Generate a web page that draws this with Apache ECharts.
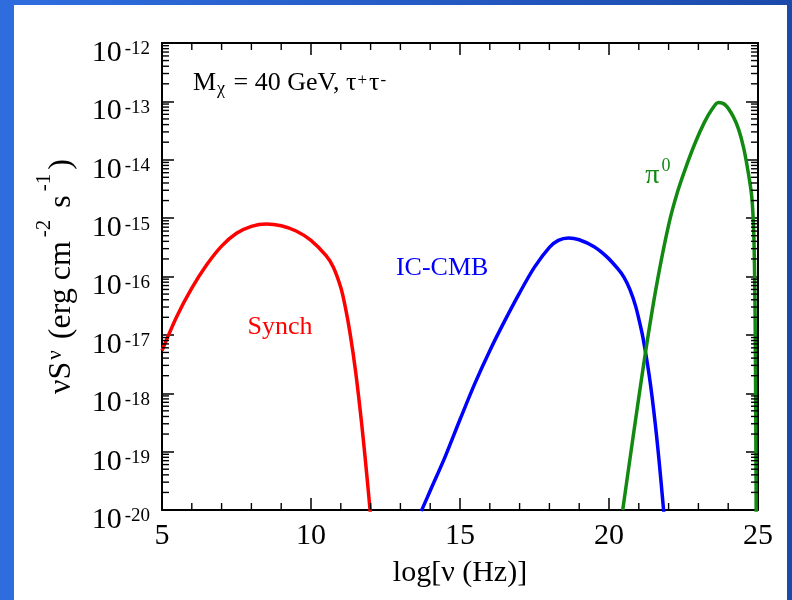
<!DOCTYPE html>
<html lang="en">
<head>
<meta charset="UTF-8">
<title>Synch / IC-CMB / pi0 spectrum</title>
<script src="https://cdn.jsdelivr.net/npm/echarts@6.0.0/dist/echarts.min.js"></script>
<style>
  html, body { margin: 0; padding: 0; }
  body { width: 792px; height: 600px; overflow: hidden; position: relative;
         background: linear-gradient(to right, #2f6ddf, #1c4aab); }
  #panel { position: absolute; left: 14px; top: 5px; width: 773px; height: 595px; background: #fff; }
  #chart { position: absolute; left: 0; top: 0; width: 792px; height: 600px; }
</style>
</head>
<body>
<div id="panel"></div>
<div id="chart"></div>
<script>
  // log10(nu / Hz) and log10(nuS_nu / erg cm^-2 s^-1)
  var synchX = [5.0, 5.5, 6.0, 6.5, 7.0, 7.5, 8.0, 8.5, 9.0, 9.5, 10.0, 10.5, 10.75, 11.0, 11.15, 11.31, 11.5, 11.7, 11.85, 12.0];
  var synchY = [-17.27, -16.68, -16.2, -15.8, -15.48, -15.26, -15.14, -15.1, -15.13, -15.22, -15.38, -15.64, -15.84, -16.19, -16.52, -16.97, -17.64, -18.52, -19.28, -20.1];

  var icX = [13.7, 14.0, 14.5, 15.0, 15.5, 16.0, 16.5, 17.0, 17.5, 18.0, 18.3, 18.64, 19.0, 19.5, 19.92, 20.3, 20.5, 20.7, 20.9, 21.1, 21.2, 21.3, 21.4, 21.5, 21.6, 21.7, 21.8, 21.84];
  var icY = [-20.02, -19.67, -19.09, -18.45, -17.83, -17.27, -16.76, -16.28, -15.84, -15.5, -15.38, -15.34, -15.37, -15.49, -15.66, -15.87, -16.01, -16.22, -16.52, -16.95, -17.22, -17.53, -17.88, -18.29, -18.75, -19.26, -19.82, -20.05];

  var pionX = [20.46, 20.8, 21.2, 21.6, 22.0, 22.3, 22.6, 22.9, 23.2, 23.45, 23.67, 23.9, 24.17, 24.35, 24.51, 24.65, 24.79, 24.86, 24.9, 24.92, 24.94];
  var pionY = [-20.0, -18.78, -17.38, -16.14, -15.12, -14.55, -14.1, -13.7, -13.36, -13.14, -13.02, -13.06, -13.26, -13.48, -13.78, -14.15, -14.63, -15.3, -16.5, -18.0, -20.1];

  var xRange = [5, 25];
  var yRange = [-20, -12];          // decades shown

  var yMinorTicks = [];
  for (var n = yRange[0]; n < yRange[1]; n++) {
    for (var k = 2; k <= 9; k++) yMinorTicks.push(n + Math.log10(k));
  }
  var xMinorTicks = [];
  for (var t = xRange[0] + 1; t < xRange[1]; t++) {
    if (t % 5 !== 0) xMinorTicks.push(t);
  }

  var FONT = 'Liberation Serif';

  function pairs(xs, ys) {
    return xs.map(function (x, i) { return [x, ys[i]]; });
  }

  function tag(x, y, text, color, rich) {
    return {
      silent: true,
      symbol: 'circle',
      symbolSize: 1,
      itemStyle: { color: 'rgba(0,0,0,0)' },
      label: {
        show: true, position: 'inside', formatter: text, color: color,
        fontFamily: FONT, fontSize: 26, rich: rich
      },
      data: [{ coord: [x, y] }]
    };
  }

  var chart = echarts.init(document.getElementById('chart'), null, { renderer: 'canvas' });

  var xBase = {
    type: 'value', min: xRange[0], max: xRange[1], interval: 5,
    axisLine: { lineStyle: { color: '#000', width: 2 } },
    axisTick: { inside: true, length: 12, lineStyle: { color: '#000', width: 1.5 } },
    splitLine: { show: false }
  };

  var yBase = {
    type: 'value', min: yRange[0], max: yRange[1], interval: 1,
    axisLine: { lineStyle: { color: '#000', width: 2 } },
    axisTick: { inside: true, length: 12, lineStyle: { color: '#000', width: 1.5 } },
    splitLine: { show: false }
  };

  var note = {
    type: 'text', left: 193, top: 64, silent: true,
    style: {
      text: '{m|M}{sub|χ}{m| = 40 GeV, τ}{sup|+}{m|τ}{sup|-}',
      rich: {
        m: { fontFamily: FONT, fontSize: 26, lineHeight: 26, fill: '#000', padding: [6, 0, 10, 0] },
        sup: { fontFamily: FONT, fontSize: 17, lineHeight: 17, fill: '#000', verticalAlign: 'top', padding: [0, 2, 0, 1] },
        sub: { fontFamily: FONT, fontSize: 18, lineHeight: 18, fill: '#000', verticalAlign: 'bottom', padding: [0, 2, 0, 1] }
      }
    }
  };

  chart.setOption({
    animation: false,
    backgroundColor: 'transparent',
    grid: { left: 162, right: 34, top: 43, bottom: 90, outerBoundsMode: 'none' },
    xAxis: [
      Object.assign({}, xBase, {
        position: 'bottom',
        axisLabel: { color: '#000', fontFamily: FONT, fontSize: 30, margin: 11 },
        name: 'log[ν (Hz)]',
        nameLocation: 'middle',
        nameGap: 48,
        nameTextStyle: { color: '#000', fontFamily: FONT, fontSize: 30 }
      }),
      Object.assign({}, xBase, { position: 'top', axisLabel: { show: false } })
    ],
    yAxis: [
      Object.assign({}, yBase, {
        position: 'left',
        axisLabel: {
          margin: 12,
          formatter: function (v) { return '{a|10}{b|' + v + '}'; },
          rich: {
            a: { fontFamily: FONT, fontSize: 30, lineHeight: 30, color: '#000', padding: [20, 0, 0, 0] },
            b: { fontFamily: FONT, fontSize: 19, lineHeight: 19, color: '#000', verticalAlign: 'top', padding: [12, 0, 0, 3] }
          }
        },
        name: '{m|νS}{sub|ν}{m| (erg cm}{sup|-2}{m| s}{sup|-1}{m|)}',
        nameLocation: 'middle',
        nameRotate: 90,
        nameGap: 96,
        nameTextStyle: {
          rich: {
            m: { fontFamily: FONT, fontSize: 32, lineHeight: 32, color: '#000', padding: [24, 0, 0, 0] },
            sup: { fontFamily: FONT, fontSize: 21, lineHeight: 21, color: '#000', verticalAlign: 'top', padding: [0, 4, 0, 4] },
            sub: { fontFamily: FONT, fontSize: 21, lineHeight: 21, color: '#000', verticalAlign: 'bottom', padding: [0, 3, 0, 2] }
          }
        }
      }),
      Object.assign({}, yBase, { position: 'right', axisLabel: { show: false } })
    ],
    graphic: [note],
    series: [
      {
        name: 'Synch', type: 'line', xAxisIndex: 0, yAxisIndex: 0,
        data: pairs(synchX, synchY), showSymbol: false, smooth: 0.3, clip: true,
        lineStyle: { color: '#ff0000', width: 3.5 },
        markPoint: tag(8.96, -16.86, 'Synch', '#ff0000')
      },
      {
        name: 'IC-CMB', type: 'line', xAxisIndex: 0, yAxisIndex: 0,
        data: pairs(icX, icY), showSymbol: false, smooth: 0.3, clip: true,
        lineStyle: { color: '#0000ff', width: 3.5 },
        markPoint: tag(14.4, -15.85, 'IC-CMB', '#0000ff')
      },
      {
        name: 'pi0', type: 'line', xAxisIndex: 0, yAxisIndex: 0,
        data: pairs(pionX, pionY), showSymbol: false, smooth: 0.3, clip: true,
        lineStyle: { color: '#128a12', width: 3.5 },
        markPoint: tag(21.64, -14.2, '{p|π}{z|0}', '#128a12', {
          p: { fontFamily: FONT, fontSize: 28, lineHeight: 28, color: '#128a12', padding: [8, 0, 0, 0] },
          z: { fontFamily: FONT, fontSize: 18, lineHeight: 18, color: '#128a12', verticalAlign: 'top', padding: [0, 0, 0, 2] }
        })
      }
    ]
  });

  // minor ticks on all four sides of the frame, placed through the chart's own scales
  var ticks = [];
  function addTick(a, b) {
    ticks.push({
      type: 'line', silent: true, z: 50,
      shape: { x1: a[0], y1: a[1], x2: b[0], y2: b[1] },
      style: { stroke: '#000', lineWidth: 1.4 }
    });
  }
  yMinorTicks.forEach(function (v) {
    var pl = chart.convertToPixel({ gridIndex: 0 }, [xRange[0], v]);
    var pr = chart.convertToPixel({ gridIndex: 0 }, [xRange[1], v]);
    addTick(pl, [pl[0] + 7, pl[1]]);
    addTick([pr[0] - 7, pr[1]], pr);
  });
  xMinorTicks.forEach(function (v) {
    var pb = chart.convertToPixel({ gridIndex: 0 }, [v, yRange[0]]);
    var pt = chart.convertToPixel({ gridIndex: 0 }, [v, yRange[1]]);
    addTick(pb, [pb[0], pb[1] - 7]);
    addTick(pt, [pt[0], pt[1] + 7]);
  });
  chart.setOption({ graphic: [note].concat(ticks) });
</script>
</body>
</html>
